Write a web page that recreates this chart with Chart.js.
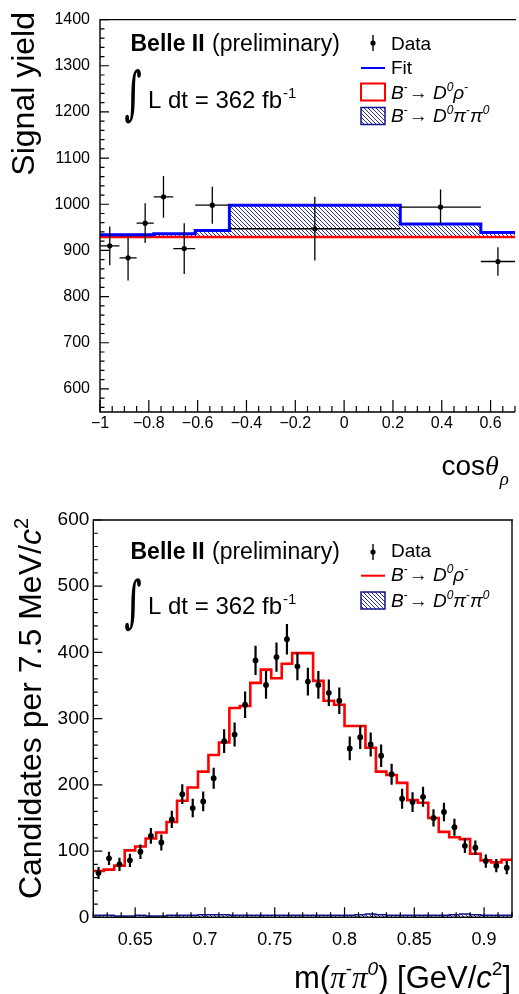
<!DOCTYPE html>
<html><head><meta charset="utf-8">
<script src="https://cdn.jsdelivr.net/npm/chart.js@4.4.0/dist/chart.umd.min.js"></script>
<style>
html,body{margin:0;padding:0;background:#fff;}
#wrap{position:relative;width:519px;height:994px;overflow:hidden;background:#fff;}
canvas{display:block;}
</style></head><body>
<div id="wrap">
<canvas id="c1" width="519" height="497"></canvas>
<canvas id="c2" width="519" height="497"></canvas>
</div>
<script>
// ================= DATA =================
// Top panel: signal yield in bins of cos(theta_rho)
const cosBinLo = [-1.00, -0.92, -0.85, -0.78, -0.70, -0.61, -0.47, 0.23, 0.56];
const cosBinHi = [-0.92, -0.85, -0.78, -0.70, -0.61, -0.47, 0.23, 0.56, 0.70];
const cosYield = [910, 884, 959, 1016, 904, 998, 947, 994, 876];
const cosYieldErr = [42, 49, 43, 45, 55, 40, 69, 38, 31];
const cosFit = [934, 934, 934, 936, 936, 943, 998, 957, 939];
const cosDrho = [929, 929, 929, 929, 929, 929, 929, 929, 929];
const cosXTicks = [-1, -0.8, -0.6, -0.4, -0.2, 0, 0.2, 0.4, 0.6];
const cosYTicks = [600, 700, 800, 900, 1000, 1100, 1200, 1300, 1400];

// Bottom panel: m(pi- pi0) distribution, 7.5 MeV bins
const mBinWidth = 0.0075;
const mCenters = [0.62375, 0.63125, 0.63875, 0.64625, 0.65375, 0.66125, 0.66875, 0.67625, 0.68375, 0.69125,
                  0.69875, 0.70625, 0.71375, 0.72125, 0.72875, 0.73625, 0.74375, 0.75125, 0.75875, 0.76625,
                  0.77375, 0.78125, 0.78875, 0.79625, 0.80375, 0.81125, 0.81875, 0.82625, 0.83375, 0.84125,
                  0.84875, 0.85625, 0.86375, 0.87125, 0.87875, 0.88625, 0.89375, 0.90125, 0.90875, 0.91625];
const mData = [67, 89, 80, 86, 99, 123, 113, 148, 186, 165,
               175, 210, 266, 276, 321, 388, 351, 393, 420, 379,
               356, 351, 339, 327, 255, 272, 261, 244, 216, 179,
               174, 182, 150, 159, 136, 108, 105, 85, 78, 75];
const mDataErr = [9, 10, 10, 10, 11, 12, 12, 13, 15, 14,
                  15, 16, 18, 18, 20, 22, 21, 22, 23, 21,
                  21, 21, 20, 20, 18, 18, 18, 17, 16, 15,
                  15, 15, 13, 14, 13, 11, 11, 10, 10, 10];
const mDrho = [70, 72, 78, 101, 107, 119, 128, 144, 176, 196,
               220, 245, 264, 316, 319, 354, 374, 361, 383, 399,
               399, 357, 327, 321, 289, 289, 256, 220, 215, 203,
               177, 173, 150, 129, 121, 118, 96, 86, 83, 87];
const mDpipi = [3, 3, 2, 2, 3, 2, 2, 3, 3, 3,
                4, 4, 4, 3, 3, 3, 3, 3, 3, 3,
                3, 3, 3, 3, 3, 4, 5, 4, 3, 3,
                3, 3, 3, 3, 4, 5, 4, 3, 3, 3];
const mXTicks = [0.65, 0.7, 0.75, 0.8, 0.85, 0.9];
const mYTicks = [0, 100, 200, 300, 400, 500, 600];

// ================= HELPERS =================
const FONT = '"Liberation Sans", Arial, Helvetica, sans-serif';
const SERIF = '"Liberation Serif", "DejaVu Serif", serif';
const fnt = (size, style) => (style ? style + ' ' : '') + size + 'px ' + FONT;
const RED = '#ff0000', BLUE = '#0000ff', NAVY = '#14148a';

function stepPoints(lo, hi, vals) {
  const pts = vals.map((v, i) => ({x: lo[i], y: v}));
  pts.push({x: hi[hi.length - 1], y: vals[vals.length - 1]});
  return pts;
}
function makeHatch(ctx, color, size, lw) {
  const c = document.createElement('canvas');
  c.width = size; c.height = size;
  const g = c.getContext('2d');
  g.strokeStyle = color; g.lineWidth = lw;
  g.beginPath();
  g.moveTo(-1, -1); g.lineTo(size + 1, size + 1);
  g.moveTo(-1, size - 1); g.lineTo(1, size + 1);
  g.moveTo(size - 1, -1); g.lineTo(size + 1, 1);
  g.stroke();
  return ctx.createPattern(c, 'repeat');
}
function richWidth(ctx, parts) {
  let w = 0;
  for (const p of parts) { ctx.font = p.font; w += ctx.measureText(p.t).width + (p.dx || 0); }
  return w;
}
function drawRich(ctx, x, y, parts, align) {
  const w = richWidth(ctx, parts);
  let cx = align === 'right' ? x - w : x;
  ctx.textAlign = 'left'; ctx.textBaseline = 'alphabetic';
  for (const p of parts) {
    ctx.font = p.font; cx += (p.dx || 0);
    ctx.fillText(p.t, cx, y + (p.dy || 0));
    cx += ctx.measureText(p.t).width;
  }
}
function drawIntegral(ctx, x0, y0, x1, y1) {
  ctx.save();
  ctx.font = 'bold 100px "DejaVu Serif", "DejaVu Sans"';
  const m = ctx.measureText('\u222B');
  const w = m.actualBoundingBoxLeft + m.actualBoundingBoxRight;
  const h = m.actualBoundingBoxAscent + m.actualBoundingBoxDescent;
  ctx.translate(x0, y0);
  ctx.scale((x1 - x0) / w, (y1 - y0) / h);
  ctx.textAlign = 'left'; ctx.textBaseline = 'alphabetic';
  ctx.fillText('\u222B', m.actualBoundingBoxLeft, m.actualBoundingBoxAscent);
  ctx.restore();
}
const fmtTick = v => { const s = String(Math.abs(v)); return v < 0 ? '\u2212' + s : s; };

function decayParts(size, pipi) {
  const sup = Math.round(size * 0.62), dy = -Math.round(size * 0.42);
  const parts = [
    {t: 'B', font: fnt(size, 'italic')},
    {t: '-', font: fnt(sup), dy: dy},
    {t: '\u2192', font: fnt(size), dx: 1},
    {t: ' D', font: fnt(size, 'italic')},
    {t: '0', font: fnt(sup, 'italic'), dy: dy}
  ];
  if (pipi) {
    parts.push({t: '\u03c0', font: fnt(size, 'italic')}, {t: '-', font: fnt(sup), dy: dy},
               {t: '\u03c0', font: fnt(size, 'italic')}, {t: '0', font: fnt(sup, 'italic'), dy: dy});
  } else {
    parts.push({t: '\u03c1', font: fnt(size, 'italic')}, {t: '-', font: fnt(sup), dy: dy});
  }
  return parts;
}

// ROOT-like frame + inward ticks + error bars + texts
const rootPlugin = {
  id: 'rootStyle',
  afterDatasetsDraw(chart, args, o) {
    const {ctx, chartArea: a, scales: {x, y}} = chart;
    ctx.save();
    // error bars
    ctx.strokeStyle = '#000';
    ctx.lineWidth = o.errLW;
    ctx.beginPath();
    o.err.c.forEach((c, i) => {
      const px = x.getPixelForValue(c), py = y.getPixelForValue(o.err.v[i]);
      ctx.moveTo(px, y.getPixelForValue(o.err.v[i] + o.err.e[i]));
      ctx.lineTo(px, y.getPixelForValue(o.err.v[i] - o.err.e[i]));
      if (o.err.lo) {
        ctx.moveTo(x.getPixelForValue(o.err.lo[i]), py);
        ctx.lineTo(Math.min(x.getPixelForValue(o.err.hi[i]), a.right), py);
      }
    });
    ctx.stroke();
    // frame
    ctx.lineWidth = 1.4;
    ctx.beginPath();
    ctx.moveTo(a.right + 1, a.top); ctx.lineTo(a.left, a.top); ctx.lineTo(a.left, a.bottom); ctx.lineTo(a.right, a.bottom);
    if (o.rightFrame) { ctx.moveTo(a.right, a.top); ctx.lineTo(a.right, a.bottom); }
    ctx.stroke();
    // ticks
    ctx.lineWidth = 1.2;
    ctx.beginPath();
    const nx = Math.round((x.max - o.xMinorStart) / o.xMinor);
    for (let k = 0; k <= nx; k++) {
      const v = o.xMinorStart + k * o.xMinor;
      const r = v / o.xMajor, maj = Math.abs(r - Math.round(r)) < 1e-6;
      const px = x.getPixelForValue(v);
      ctx.moveTo(px, a.bottom); ctx.lineTo(px, a.bottom - (maj ? o.xMajLen : o.xMinLen));
    }
    const ny = Math.round((y.max - o.yMinorStart) / o.yMinor);
    for (let k = 0; k <= ny; k++) {
      const v = o.yMinorStart + k * o.yMinor;
      const r = v / o.yMajor, maj = Math.abs(r - Math.round(r)) < 1e-6;
      const py = y.getPixelForValue(v);
      ctx.moveTo(a.left, py); ctx.lineTo(a.left + (maj ? o.yMajLen : o.yMinLen), py);
    }
    ctx.stroke();
    ctx.restore();
  },
  afterDraw(chart, args, o) {
    const ctx = chart.ctx;
    ctx.save();
    ctx.fillStyle = '#000';
    o.draw(ctx);
    ctx.restore();
  }
};
Chart.register(rootPlugin);

function legendData(ctx, yMark, yText) {
  ctx.fillStyle = '#000';
  ctx.beginPath(); ctx.arc(373, yMark, 2.6, 0, Math.PI * 2); ctx.fill();
  ctx.strokeStyle = '#000'; ctx.lineWidth = 1.4;
  ctx.beginPath(); ctx.moveTo(373, yMark - 8); ctx.lineTo(373, yMark + 8); ctx.stroke();
  drawRich(ctx, 391, yText, [{t: 'Data', font: fnt(19)}]);
}
function belleLabel(ctx, yBase, yInt0, yInt1, yL) {
  ctx.fillStyle = '#000';
  drawRich(ctx, 130.5, yBase, [{t: 'Belle II', font: fnt(23, 'bold')}]);
  drawRich(ctx, 212, yBase, [{t: '(preliminary)', font: fnt(23)}]);
  drawIntegral(ctx, 125, yInt0, 141, yInt1);
  drawRich(ctx, 148, yL, [{t: 'L dt = 362 fb', font: fnt(24)}, {t: '-1', font: fnt(15), dy: -10, dx: 1}]);
}

// ================= TOP CHART =================
const ctx1 = document.getElementById('c1').getContext('2d');
const hatch1 = makeHatch(ctx1, NAVY, 4, 0.9);
new Chart(ctx1, {
  type: 'line',
  data: {
    datasets: [
      {data: cosYield.map((v, i) => ({x: (cosBinLo[i] + cosBinHi[i]) / 2, y: v})), showLine: false,
       pointRadius: 2.6, pointBackgroundColor: '#000', pointBorderWidth: 0, order: 0},
      {data: stepPoints(cosBinLo, cosBinHi, cosFit), stepped: true, borderColor: BLUE, borderWidth: 3,
       pointRadius: 0, fill: false, order: 1},
      {data: stepPoints(cosBinLo, cosBinHi, cosFit), stepped: true, borderColor: NAVY, borderWidth: 1,
       pointRadius: 0, fill: 3, backgroundColor: hatch1, order: 3},
      {data: stepPoints(cosBinLo, cosBinHi, cosDrho), stepped: true, borderColor: RED, borderWidth: 2.5,
       pointRadius: 0, fill: false, order: 2}
    ]
  },
  options: {
    responsive: false, animation: false, devicePixelRatio: 1, events: [],
    layout: {padding: {top: 12, right: 0, left: 0, bottom: 0}},
    scales: {
      x: {type: 'linear', min: -1, max: 0.7,
          afterBuildTicks: s => { s.ticks = cosXTicks.map(v => ({value: v})); },
          afterFit: s => { s.height = 85; },
          grid: {display: false, drawTicks: false}, border: {display: false},
          ticks: {callback: fmtTick, color: '#000', font: {family: FONT, size: 16}, padding: 2,
                  autoSkip: false, maxRotation: 0}},
      y: {type: 'linear', min: 550, max: 1400,
          afterBuildTicks: s => { s.ticks = cosYTicks.map(v => ({value: v})); },
          afterFit: s => { s.width = 100; },
          grid: {display: false, drawTicks: false}, border: {display: false},
          ticks: {callback: fmtTick, color: '#000', font: {family: FONT, size: 16}, padding: 10, autoSkip: false}}
    },
    plugins: {
      legend: {display: false}, tooltip: {enabled: false},
      rootStyle: {
        errLW: 1.3, rightFrame: false,
        err: {c: cosYield.map((v, i) => (cosBinLo[i] + cosBinHi[i]) / 2), v: cosYield, e: cosYieldErr, lo: cosBinLo, hi: cosBinHi},
        xMinorStart: -1, xMinor: 0.05, xMajor: 0.2, xMajLen: 12, xMinLen: 6,
        yMinorStart: 560, yMinor: 20, yMajor: 100, yMajLen: 9, yMinLen: 4.5,
        draw: ctx => {
          belleLabel(ctx, 51, 69, 124, 108);
          legendData(ctx, 43, 50);
          // Fit
          ctx.strokeStyle = BLUE; ctx.lineWidth = 2;
          ctx.beginPath(); ctx.moveTo(361, 68); ctx.lineTo(385, 68); ctx.stroke();
          ctx.fillStyle = '#000';
          drawRich(ctx, 391, 74, [{t: 'Fit', font: fnt(19)}]);
          // D rho box
          ctx.strokeStyle = RED; ctx.lineWidth = 2;
          ctx.strokeRect(361, 83.5, 24, 17);
          drawRich(ctx, 391, 98.5, decayParts(19, false));
          // D pi pi box
          ctx.fillStyle = hatch1; ctx.fillRect(361, 107.5, 24, 17);
          ctx.strokeStyle = NAVY; ctx.lineWidth = 1.5; ctx.strokeRect(361, 107.5, 24, 17);
          ctx.fillStyle = '#000';
          drawRich(ctx, 391, 122, decayParts(19, true));
          // axis titles
          drawRich(ctx, 441.5, 475, [{t: 'cos', font: fnt(28)}, {t: '\u03b8', font: 'italic 28px ' + SERIF},
                                     {t: '\u03c1', font: 'italic 19px ' + SERIF, dy: 10, dx: 1}]);
          ctx.save(); ctx.translate(33.5, 12); ctx.rotate(-Math.PI / 2);
          drawRich(ctx, 0, 0, [{t: 'Signal yield', font: fnt(32)}], 'right');
          ctx.restore();
        }
      }
    }
  }
});

// ================= BOTTOM CHART =================
const ctx2 = document.getElementById('c2').getContext('2d');
const hatch2 = makeHatch(ctx2, NAVY, 4, 0.9);
const mLo = mCenters.map(c => c - mBinWidth / 2);
const mHi = mCenters.map(c => c + mBinWidth / 2);
new Chart(ctx2, {
  type: 'line',
  data: {
    datasets: [
      {data: mData.map((v, i) => ({x: mCenters[i], y: v})), showLine: false,
       pointRadius: 2.9, pointBackgroundColor: '#000', pointBorderWidth: 0, order: 0},
      {data: stepPoints(mLo, mHi, mDrho), stepped: true, borderColor: RED, borderWidth: 2.6,
       pointRadius: 0, fill: false, order: 1},
      {data: stepPoints(mLo, mHi, mDpipi), stepped: true, borderColor: NAVY, borderWidth: 1.5,
       pointRadius: 0, fill: 'origin', backgroundColor: hatch2, order: 2}
    ]
  },
  options: {
    responsive: false, animation: false, devicePixelRatio: 1, events: [],
    layout: {padding: {top: 23, right: 7, left: 0, bottom: 0}},
    scales: {
      x: {type: 'linear', min: 0.62, max: 0.92,
          afterBuildTicks: s => { s.ticks = mXTicks.map(v => ({value: v})); },
          afterFit: s => { s.height = 76.7; },
          grid: {display: false, drawTicks: false}, border: {display: false},
          ticks: {callback: fmtTick, color: '#000', font: {family: FONT, size: 18}, padding: 12,
                  autoSkip: false, maxRotation: 0}},
      y: {type: 'linear', min: 0, max: 600,
          afterBuildTicks: s => { s.ticks = mYTicks.map(v => ({value: v})); },
          afterFit: s => { s.width = 93.3; },
          grid: {display: false, drawTicks: false}, border: {display: false},
          ticks: {callback: fmtTick, color: '#000', font: {family: FONT, size: 19}, padding: 4, autoSkip: false}}
    },
    plugins: {
      legend: {display: false}, tooltip: {enabled: false},
      rootStyle: {
        errLW: 2.2, rightFrame: true,
        err: {c: mCenters, v: mData, e: mDataErr},
        xMinorStart: 0.62, xMinor: 0.01, xMajor: 0.05, xMajLen: 10, xMinLen: 5,
        yMinorStart: 0, yMinor: 20, yMajor: 100, yMajLen: 9, yMinLen: 4.5,
        draw: ctx => {
          belleLabel(ctx, 61.5, 81.3, 134.7, 117);
          legendData(ctx, 55, 60.3);
          ctx.strokeStyle = RED; ctx.lineWidth = 2;
          ctx.beginPath(); ctx.moveTo(361, 78.7); ctx.lineTo(385, 78.7); ctx.stroke();
          ctx.fillStyle = '#000';
          drawRich(ctx, 391, 84, decayParts(19, false));
          ctx.fillStyle = hatch2; ctx.fillRect(361, 95, 24, 17);
          ctx.strokeStyle = NAVY; ctx.lineWidth = 1.5; ctx.strokeRect(361, 95, 24, 17);
          ctx.fillStyle = '#000';
          drawRich(ctx, 391, 109.7, decayParts(19, true));
          // axis titles
          drawRich(ctx, 511, 491, [
            {t: 'm(', font: fnt(31)}, {t: '\u03c0', font: 'italic 31px ' + SERIF},
            {t: '-', font: fnt(19), dy: -13}, {t: '\u03c0', font: 'italic 31px ' + SERIF},
            {t: '0', font: fnt(19, 'italic'), dy: -13}, {t: ') [GeV/', font: fnt(31)},
            {t: 'c', font: fnt(31, 'italic')}, {t: '2', font: fnt(19), dy: -13}, {t: ']', font: fnt(31)}
          ], 'right');
          ctx.save(); ctx.translate(41, 21); ctx.rotate(-Math.PI / 2);
          drawRich(ctx, 0, 0, [{t: 'Candidates per 7.5 MeV/', font: fnt(32)}, {t: 'c', font: fnt(32, 'italic')},
                               {t: '2', font: fnt(20), dy: -13}], 'right');
          ctx.restore();
        }
      }
    }
  }
});
</script>
</body></html>
